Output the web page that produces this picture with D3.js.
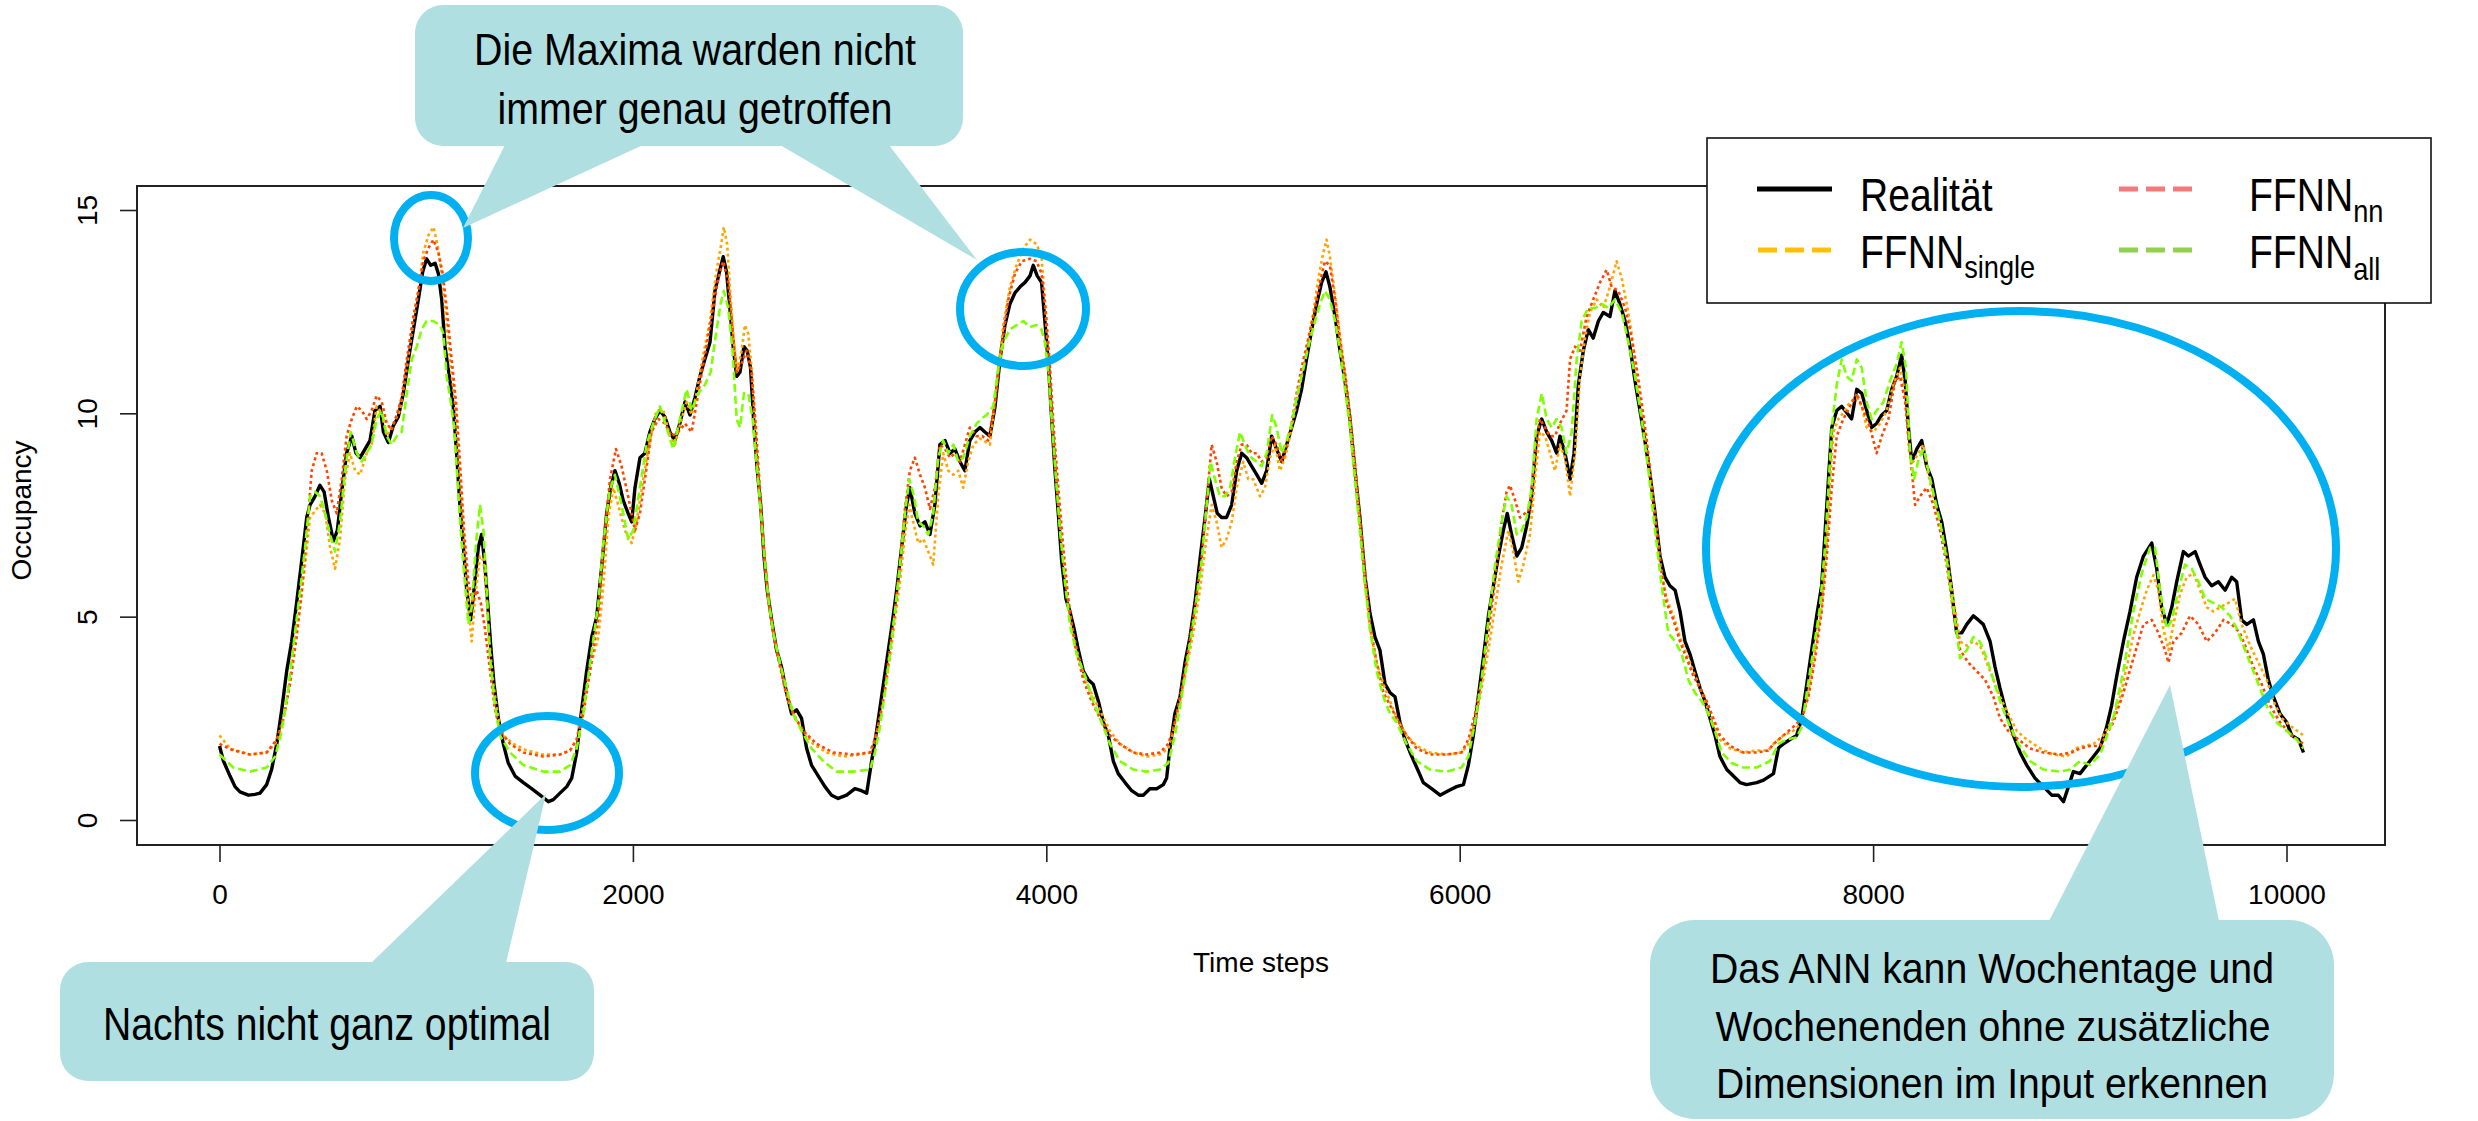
<!DOCTYPE html>
<html><head><meta charset="utf-8">
<script src="https://cdn.jsdelivr.net/npm/d3@7"></script>
<style>body{margin:0;background:#fff} svg{display:block}</style>
</head><body>
<svg id="chart" width="2478" height="1121"></svg>
<script>
// ---------- data ----------
const xTicks = [0, 2000, 4000, 6000, 8000, 10000];
const yTicks = [0, 5, 10, 15];
const xLabel = "Time steps";
const yLabel = "Occupancy";
const legendLabels = [
  {main: "Realität", sub: ""},
  {main: "FFNN", sub: "single"},
  {main: "FFNN", sub: "nn"},
  {main: "FFNN", sub: "all"}
];
const calloutMax = ["Die Maxima warden nicht", "immer genau getroffen"];
const calloutNight = ["Nachts nicht ganz optimal"];
const calloutWeek = ["Das ANN kann Wochentage und", "Wochenenden ohne zusätzliche", "Dimensionen im Input erkennen"];

const realitaet = [
[0,1.82],[19,1.45],[51,1.08],[75,0.82],[99,0.69],[140,0.61],[172,0.63],[196,0.66],[228,0.87],[252,1.24],[277,1.87],[301,2.71],[325,3.66],[349,4.39],[373,5.34],[398,6.39],[422,7.44],[438,7.75],[462,7.96],[486,8.23],[506,8.07],[527,7.44],[551,6.86],[570,7.12],[591,8.07],[615,9.02],[640,9.44],[660,9.02],[680,8.91],[704,9.12],[728,9.33],[752,10.07],[777,10.17],[793,9.54],[817,9.28],[841,9.70],[865,9.91],[889,10.49],[914,11.33],[938,12.06],[962,12.80],[983,13.48],[1002,13.80],[1022,13.64],[1043,13.69],[1059,13.43],[1075,12.80],[1091,11.64],[1112,10.91],[1131,10.17],[1147,9.02],[1163,7.75],[1180,6.70],[1196,5.65],[1215,4.92],[1231,5.65],[1252,6.70],[1268,7.02],[1284,6.28],[1296,5.44],[1312,4.29],[1328,3.34],[1349,2.50],[1373,1.87],[1397,1.40],[1430,1.08],[1470,0.92],[1510,0.77],[1551,0.61],[1591,0.45],[1615,0.50],[1647,0.66],[1680,0.82],[1704,1.03],[1728,1.66],[1752,2.71],[1776,3.66],[1801,4.50],[1825,5.00],
[1848,6.18],[1873,7.54],[1892,8.17],[1913,8.59],[1934,8.28],[1953,7.86],[1977,7.54],[1994,7.33],[2010,8.17],[2034,8.91],[2058,9.02],[2082,9.54],[2106,9.86],[2131,10.07],[2155,9.91],[2179,9.54],[2203,9.33],[2227,9.75],[2252,10.28],[2276,9.96],[2300,10.38],[2324,10.91],[2348,11.33],[2373,11.75],[2397,13.01],[2421,13.53],[2437,13.85],[2453,13.48],[2469,12.59],[2485,11.64],[2502,10.91],[2518,11.01],[2537,11.64],[2553,11.54],[2569,11.12],[2585,9.75],[2602,8.59],[2618,7.75],[2634,6.49],[2650,5.65],[2671,4.92],[2695,4.18],[2719,3.76],[2743,3.13],[2768,2.61],[2792,2.71],[2816,2.50],[2840,1.77],[2864,1.35],[2897,1.08],[2929,0.82],[2961,0.61],[2993,0.53],[3034,0.61],[3074,0.77],[3106,0.72],[3131,0.66],[3155,1.45],[3179,2.19],[3203,3.03],[3227,3.87],[3251,4.71],[3276,5.65],[3300,6.70],[3324,7.75],[3340,8.17],[3364,7.54],[3389,7.23],[3413,7.33],[3437,7.02],[3461,7.75],[3485,9.23],[3510,9.33],[3534,9.02],[3558,9.12],[3582,8.81],[3606,8.59],[3630,9.33],[3655,9.54],[3679,9.65],
[3703,9.54],[3727,9.44],[3752,10.17],[3776,11.33],[3800,12.17],[3824,12.69],[3848,12.96],[3873,13.11],[3897,13.22],[3921,13.38],[3937,13.64],[3956,13.38],[3977,13.22],[3993,12.27],[4010,11.22],[4026,9.86],[4042,8.59],[4058,7.54],[4074,6.39],[4095,5.44],[4114,5.13],[4134,4.71],[4155,4.18],[4179,3.66],[4203,3.45],[4227,3.34],[4252,2.92],[4276,2.40],[4300,2.08],[4324,1.45],[4348,1.14],[4381,0.92],[4413,0.72],[4445,0.61],[4469,0.61],[4501,0.77],[4534,0.77],[4566,0.87],[4582,1.03],[4598,1.77],[4622,2.61],[4647,3.03],[4671,3.87],[4695,4.50],[4719,5.34],[4743,6.39],[4768,7.44],[4789,8.38],[4808,7.96],[4827,7.54],[4848,7.44],[4872,7.44],[4897,7.75],[4921,8.59],[4945,9.02],[4969,8.91],[4993,8.70],[5018,8.49],[5042,8.28],[5066,8.59],[5090,9.44],[5114,9.12],[5139,8.81],[5163,9.23],[5187,9.65],[5211,10.07],[5235,10.59],[5259,11.33],[5284,12.06],[5308,12.69],[5332,13.22],[5353,13.48],[5372,13.11],[5397,12.38],[5421,11.54],[5445,10.80],[5469,9.86],[5493,8.59],[5517,7.44],[5542,5.97],[5566,5.08],
[5590,4.50],[5614,4.18],[5639,3.34],[5663,3.13],[5687,3.03],[5711,2.40],[5735,1.98],[5760,1.66],[5792,1.29],[5824,0.92],[5864,0.77],[5905,0.61],[5945,0.72],[5985,0.82],[6018,0.87],[6042,1.35],[6066,2.08],[6090,3.03],[6114,3.97],[6139,5.02],[6163,5.76],[6187,6.49],[6211,7.12],[6230,7.54],[6251,7.02],[6276,6.49],[6300,6.70],[6324,7.23],[6348,7.96],[6372,9.44],[6397,9.86],[6421,9.54],[6445,9.33],[6469,9.02],[6485,9.44],[6509,9.02],[6534,8.38],[6553,9.02],[6574,10.70],[6598,11.54],[6622,12.06],[6646,11.85],[6671,12.27],[6695,12.48],[6727,12.38],[6751,13.01],[6775,12.69],[6800,12.27],[6824,11.64],[6848,10.80],[6872,10.07],[6896,9.33],[6921,8.49],[6945,7.54],[6969,6.49],[6993,5.97],[7017,5.76],[7042,5.65],[7066,5.13],[7090,4.39],[7114,4.08],[7138,3.66],[7163,3.24],[7187,2.92],[7211,2.50],[7235,2.08],[7259,1.56],[7292,1.24],[7324,1.08],[7356,0.92],[7388,0.87],[7437,0.92],[7470,0.98],
[7518,1.14],[7542,1.77],[7566,1.87],[7598,1.98],[7630,2.08],[7655,2.50],[7679,3.34],[7703,4.18],[7727,5.02],[7751,5.76],[7767,7.02],[7784,8.38],[7800,9.65],[7824,10.07],[7848,10.17],[7872,10.02],[7896,9.86],[7921,10.59],[7945,10.49],[7969,10.07],[7993,9.65],[8017,9.75],[8042,9.96],[8066,10.07],[8090,10.59],[8114,10.91],[8138,11.43],[8155,10.80],[8171,9.65],[8187,8.81],[8211,9.12],[8235,9.33],[8259,8.70],[8284,8.38],[8308,7.75],[8332,7.33],[8356,6.60],[8380,5.65],[8404,4.60],[8429,4.60],[8453,4.81],[8485,5.02],[8509,4.92],[8533,4.81],[8566,4.39],[8590,3.76],[8614,3.24],[8646,2.61],[8679,2.08],[8711,1.66],[8743,1.35],[8783,1.03],[8824,0.82],[8864,0.61],[8896,0.61],[8921,0.45],[8945,0.82],[8969,1.19],[9001,1.14],[9033,1.35],[9066,1.56],[9098,1.77],[9130,2.29],[9154,2.82],[9179,3.55],[9211,4.39],[9243,5.13],[9275,5.97],[9308,6.49],[9348,6.81],
[9372,6.18],[9396,5.23],[9421,4.81],[9445,5.23],[9469,5.86],[9501,6.60],[9525,6.49],[9558,6.60],[9582,6.28],[9606,5.97],[9638,5.76],[9670,5.86],[9703,5.65],[9735,5.97],[9759,5.86],[9783,4.92],[9808,4.81],[9840,4.92],[9864,4.39],[9888,4.08],[9912,3.45],[9937,3.03],[9969,2.61],[10001,2.40],[10025,2.08],[10058,1.98],[10082,1.66]
];

const ffnnSingle = [
[0,2.08],[51,1.76],[148,1.61],[228,1.66],[269,1.87],[301,2.29],[333,3.13],[365,4.39],[390,5.23],[414,6.28],[438,7.44],[462,7.60],[486,7.75],[511,7.54],[535,6.70],[559,6.18],[583,6.91],[607,8.38],[631,9.02],[656,8.59],[680,8.49],[712,9.02],[736,9.23],[760,10.17],[785,10.01],[809,9.44],[841,9.75],[873,10.07],[906,11.12],[938,12.27],[962,13.01],[986,13.95],[1010,14.37],[1035,14.58],[1054,14.16],[1075,13.43],[1099,12.17],[1119,11.12],[1139,10.28],[1156,9.02],[1172,7.75],[1188,6.49],[1204,5.23],[1220,4.39],[1236,5.44],[1260,6.49],[1277,6.39],[1289,5.65],[1305,4.39],[1325,3.34],[1349,2.50],[1373,2.08],[1422,1.87],[1486,1.71],[1567,1.61],[1647,1.61],[1696,1.71],[1728,1.98],[1760,2.82],[1793,3.76],[1833,4.50],
[1857,5.76],[1881,7.44],[1905,8.17],[1929,7.75],[1961,7.12],[1994,6.81],[2018,7.33],[2050,8.38],[2082,9.33],[2114,10.07],[2147,10.07],[2179,9.44],[2203,9.23],[2235,9.86],[2260,10.28],[2284,9.96],[2308,10.49],[2340,11.43],[2373,12.27],[2402,13.43],[2424,14.06],[2440,14.58],[2456,14.16],[2472,12.90],[2489,11.75],[2505,11.01],[2526,11.54],[2542,12.17],[2558,11.96],[2574,11.12],[2590,9.86],[2606,8.38],[2622,7.33],[2639,6.28],[2663,5.13],[2687,4.39],[2719,3.66],[2752,2.92],[2784,2.50],[2824,2.19],[2872,1.87],[2937,1.66],[3018,1.56],[3098,1.61],[3147,1.66],[3171,1.98],[3195,2.50],[3219,3.13],[3243,3.97],[3268,4.92],[3292,5.86],[3316,7.02],[3337,7.75],[3356,7.33],[3380,6.81],[3405,6.91],[3429,6.60],[3453,6.28],[3477,7.96],[3501,9.02],[3526,8.59],[3550,8.49],[3574,8.59],[3598,8.17],[3622,8.81],[3647,9.23],[3679,9.38],
[3727,9.23],[3760,10.70],[3792,12.17],[3824,13.11],[3856,13.64],[3889,14.06],[3921,14.27],[3953,14.16],[3977,13.85],[3993,12.80],[4010,11.33],[4026,9.86],[4047,8.49],[4066,7.33],[4090,6.07],[4114,5.02],[4147,4.18],[4187,3.45],[4227,3.03],[4268,2.61],[4308,2.19],[4356,1.87],[4421,1.66],[4485,1.56],[4550,1.61],[4590,1.76],[4614,2.19],[4647,2.92],[4679,3.76],[4711,4.60],[4743,5.65],[4772,6.81],[4800,7.75],[4824,7.33],[4848,6.70],[4872,6.91],[4897,7.33],[4921,8.17],[4953,8.81],[4977,8.38],[5001,8.38],[5034,7.96],[5058,8.17],[5082,8.91],[5106,9.23],[5130,8.59],[5155,8.91],[5179,9.44],[5203,10.07],[5227,10.70],[5259,11.54],[5292,12.48],[5316,13.32],[5340,13.95],[5356,14.27],[5372,13.85],[5397,12.90],[5421,11.85],[5445,10.91],[5469,9.86],[5493,8.59],[5517,7.33],[5542,5.86],[5566,4.70],
[5598,3.87],[5631,3.34],[5663,2.92],[5695,2.50],[5743,2.08],[5792,1.82],[5856,1.66],[5937,1.61],[6009,1.66],[6042,1.87],[6074,2.40],[6106,3.24],[6139,4.18],[6171,5.23],[6203,6.28],[6235,7.12],[6259,6.60],[6284,5.86],[6308,6.28],[6340,7.02],[6364,8.38],[6388,9.54],[6413,9.44],[6437,9.02],[6461,8.59],[6485,9.23],[6509,8.91],[6534,7.96],[6558,9.02],[6582,10.91],[6606,11.85],[6630,12.48],[6663,12.80],[6695,12.59],[6727,13.11],[6759,13.74],[6784,13.32],[6808,12.69],[6832,11.96],[6856,10.91],[6880,10.07],[6905,9.23],[6929,8.17],[6953,7.12],[6977,6.07],[7001,5.44],[7034,5.02],[7066,4.50],[7098,4.08],[7130,3.66],[7163,3.24],[7195,2.82],[7227,2.40],[7259,1.98],[7308,1.76],[7372,1.66],[7437,1.71],[7493,1.71],
[7518,1.87],[7566,2.08],[7614,2.19],[7655,2.40],[7687,3.13],[7719,4.18],[7751,5.23],[7776,6.81],[7792,8.38],[7808,9.54],[7832,9.86],[7856,10.01],[7888,10.28],[7921,10.38],[7945,10.17],[7969,9.65],[8001,9.54],[8034,9.75],[8066,10.07],[8098,10.70],[8130,11.12],[8155,10.49],[8175,9.02],[8195,8.81],[8219,9.02],[8243,9.23],[8267,8.49],[8292,7.96],[8324,7.33],[8356,6.49],[8388,5.44],[8421,4.39],[8453,4.29],[8485,4.39],[8517,4.29],[8550,3.87],[8582,3.45],[8614,3.03],[8654,2.61],[8695,2.19],[8743,1.98],[8808,1.76],[8872,1.61],[8937,1.56],[8977,1.76],[9017,1.82],[9066,1.87],[9114,2.08],[9162,2.50],[9195,3.03],[9227,3.76],[9259,4.55],[9292,5.13],[9324,5.65],[9356,6.02],[9380,5.65],[9404,4.71],[9429,4.18],[9453,4.81],[9485,5.55],[9517,5.97],[9550,6.07],[9582,5.65],[9614,5.23],[9646,5.13],[9679,5.23],[9719,5.34],[9751,5.44],[9783,4.81],[9824,4.29],[9864,3.87],[9904,3.45],[9937,2.92],[9977,2.50],[10025,2.29],[10082,2.08]
];

const ffnnNn = [
[0,1.87],[67,1.71],[148,1.61],[228,1.66],[277,1.98],[309,2.50],[341,3.34],[373,4.50],[398,5.65],[422,7.02],[446,8.59],[470,9.02],[494,9.02],[519,8.59],[543,7.86],[567,7.54],[591,8.38],[615,9.44],[640,9.86],[664,10.17],[688,10.07],[712,9.86],[736,10.07],[760,10.43],[785,10.28],[809,9.75],[833,9.59],[857,9.96],[881,10.38],[906,11.33],[938,12.38],[962,13.01],[986,13.74],[1010,14.06],[1035,14.27],[1059,13.95],[1080,13.43],[1099,12.59],[1123,11.33],[1144,10.28],[1163,8.81],[1183,7.12],[1204,5.86],[1225,5.34],[1244,5.65],[1264,5.34],[1284,4.71],[1309,3.66],[1333,2.71],[1357,2.19],[1406,1.87],[1470,1.66],[1567,1.56],[1647,1.61],[1696,1.71],[1728,1.98],[1760,2.61],[1793,3.66],[1833,5.00],
[1857,6.70],[1889,8.38],[1918,9.12],[1945,8.70],[1977,7.96],[2010,7.12],[2034,7.54],[2058,8.38],[2090,9.54],[2123,9.86],[2155,9.75],[2187,9.44],[2219,9.54],[2252,9.75],[2284,9.54],[2316,10.49],[2348,11.43],[2381,12.38],[2413,13.32],[2437,13.74],[2461,13.22],[2482,12.06],[2502,11.01],[2526,11.22],[2550,11.54],[2574,11.01],[2595,9.65],[2614,8.17],[2631,6.81],[2650,5.65],[2676,4.71],[2703,3.97],[2735,3.24],[2776,2.61],[2824,2.19],[2889,1.87],[2969,1.66],[3066,1.61],[3147,1.66],[3171,1.98],[3195,2.50],[3219,3.24],[3243,4.18],[3268,5.13],[3292,6.28],[3316,7.65],[3340,8.59],[3364,8.91],[3389,8.49],[3413,8.17],[3437,7.65],[3461,8.17],[3485,9.23],[3510,9.12],[3534,8.91],[3558,9.02],[3582,8.81],[3606,9.23],[3630,9.65],[3663,9.44],[3690,9.44],
[3719,9.33],[3752,10.28],[3784,11.64],[3816,12.80],[3848,13.43],[3881,13.74],[3921,13.80],[3953,13.74],[3977,13.43],[3998,12.48],[4018,11.12],[4037,9.54],[4058,8.17],[4082,6.70],[4106,5.44],[4139,4.29],[4179,3.45],[4219,2.92],[4260,2.50],[4308,2.08],[4356,1.87],[4421,1.66],[4485,1.61],[4550,1.66],[4590,1.87],[4622,2.40],[4655,3.24],[4687,4.18],[4719,5.23],[4752,6.49],[4776,7.86],[4800,9.23],[4824,8.81],[4848,8.17],[4872,7.96],[4897,8.07],[4921,8.81],[4945,9.23],[4969,9.23],[4993,9.02],[5018,9.02],[5042,8.81],[5066,8.91],[5090,9.44],[5114,9.23],[5139,8.81],[5163,9.23],[5187,9.75],[5211,10.49],[5235,11.12],[5268,11.85],[5300,12.59],[5324,13.22],[5348,13.74],[5372,13.64],[5397,12.80],[5421,11.85],[5445,11.01],[5469,9.96],[5493,8.81],[5517,7.44],[5542,6.07],[5566,4.82],
[5598,3.87],[5631,3.13],[5663,2.82],[5695,2.50],[5743,2.08],[5792,1.76],[5856,1.61],[5937,1.61],[6009,1.66],[6042,1.98],[6074,2.61],[6106,3.45],[6139,4.60],[6171,5.86],[6203,7.33],[6227,8.07],[6243,8.23],[6268,7.86],[6292,7.44],[6316,7.54],[6340,7.65],[6364,9.02],[6388,9.86],[6413,9.65],[6437,9.44],[6461,9.44],[6485,9.75],[6517,10.07],[6534,11.33],[6558,11.64],[6582,11.54],[6614,12.38],[6646,12.80],[6679,13.22],[6711,13.53],[6735,13.11],[6767,13.01],[6800,12.59],[6832,11.85],[6856,11.12],[6880,10.28],[6905,9.33],[6929,8.17],[6953,7.02],[6977,6.07],[7001,5.34],[7034,4.92],[7066,4.39],[7098,3.97],[7130,3.55],[7163,3.24],[7195,2.92],[7227,2.50],[7259,2.08],[7308,1.82],[7372,1.66],[7437,1.66],[7493,1.71],
[7518,1.87],[7566,2.08],[7614,2.29],[7655,2.50],[7687,3.03],[7719,3.97],[7751,5.13],[7776,6.49],[7800,8.17],[7824,9.44],[7856,9.86],[7888,10.17],[7921,10.49],[7953,10.07],[7985,9.65],[8017,9.02],[8042,9.44],[8074,9.86],[8106,10.80],[8130,10.91],[8155,10.28],[8179,9.02],[8203,7.75],[8227,7.96],[8259,8.17],[8292,7.75],[8324,7.12],[8356,6.28],[8388,5.13],[8421,4.18],[8461,3.87],[8501,3.66],[8541,3.45],[8582,3.03],[8614,2.50],[8654,2.19],[8703,1.98],[8759,1.76],[8824,1.66],[8904,1.61],[8961,1.66],[9001,1.76],[9050,1.82],[9098,1.82],[9162,2.40],[9211,3.13],[9259,3.97],[9308,4.81],[9348,4.92],[9380,4.60],[9412,4.18],[9429,3.87],[9453,4.39],[9493,4.60],[9533,5.02],[9574,4.81],[9614,4.39],[9654,4.60],[9695,4.92],[9735,4.81],[9775,4.60],[9808,4.18],[9840,3.76],[9880,3.34],[9920,2.82],[9969,2.40],[10025,2.08],[10082,1.87]
];

const ffnnAll = [
[0,1.61],[67,1.29],[148,1.19],[228,1.29],[269,1.56],[301,2.19],[333,3.24],[365,4.60],[390,5.65],[414,6.70],[438,7.96],[462,8.07],[486,7.96],[511,7.54],[535,7.02],[559,6.60],[583,7.33],[607,8.59],[635,9.54],[664,9.02],[688,8.81],[712,9.02],[736,9.23],[760,9.86],[785,10.07],[809,9.44],[833,9.23],[857,9.44],[881,9.54],[906,10.49],[930,11.33],[954,11.64],[978,12.06],[1002,12.27],[1035,12.27],[1067,12.17],[1083,11.96],[1099,10.91],[1119,10.28],[1135,9.65],[1151,8.38],[1167,7.12],[1183,6.07],[1204,4.81],[1220,5.23],[1241,6.81],[1260,7.75],[1277,7.12],[1293,5.65],[1309,3.97],[1333,2.82],[1357,2.08],[1406,1.66],[1470,1.35],[1567,1.19],[1647,1.19],[1696,1.35],[1728,1.76],[1760,2.61],[1793,3.87],[1833,5.34],
[1857,6.81],[1886,8.07],[1913,8.49],[1945,7.75],[1977,6.91],[2002,7.12],[2034,8.17],[2066,9.23],[2098,9.75],[2131,10.17],[2163,9.65],[2195,9.12],[2227,9.86],[2260,10.59],[2284,10.07],[2316,10.49],[2348,10.70],[2376,11.01],[2402,11.96],[2424,12.69],[2440,13.01],[2461,12.59],[2482,11.54],[2502,9.86],[2518,9.65],[2537,10.49],[2558,10.49],[2579,9.86],[2598,8.81],[2618,7.65],[2634,6.60],[2655,5.44],[2679,4.60],[2711,3.87],[2743,3.24],[2776,2.61],[2816,2.19],[2864,1.76],[2921,1.45],[2985,1.19],[3066,1.19],[3147,1.24],[3171,1.66],[3195,2.29],[3219,3.13],[3243,4.08],[3268,5.13],[3292,6.28],[3316,7.54],[3337,8.38],[3360,7.96],[3380,7.33],[3405,7.23],[3429,7.02],[3453,7.54],[3477,8.91],[3501,9.33],[3526,9.02],[3550,9.23],[3574,8.81],[3598,8.91],[3630,9.44],[3663,9.75],[3695,9.90],
[3711,9.96],[3743,10.17],[3768,11.12],[3792,11.75],[3824,12.06],[3856,12.17],[3889,12.27],[3921,12.12],[3953,12.17],[3977,12.06],[3993,11.75],[4010,11.01],[4026,9.86],[4047,8.38],[4066,7.12],[4090,5.86],[4114,4.81],[4147,4.08],[4187,3.55],[4227,2.92],[4268,2.40],[4308,1.87],[4356,1.45],[4421,1.24],[4485,1.19],[4550,1.24],[4590,1.40],[4622,2.08],[4655,3.03],[4687,4.08],[4719,5.13],[4752,6.39],[4776,7.75],[4795,8.81],[4816,8.38],[4840,7.96],[4864,7.96],[4889,8.17],[4913,8.91],[4937,9.54],[4969,9.12],[4993,8.91],[5018,8.81],[5042,8.70],[5066,9.02],[5093,9.96],[5114,9.65],[5139,9.02],[5163,9.33],[5187,9.75],[5211,10.38],[5235,10.91],[5268,11.64],[5300,12.27],[5324,12.69],[5348,13.01],[5372,12.80],[5397,12.27],[5421,11.54],[5445,10.59],[5469,9.65],[5493,8.38],[5517,7.12],[5542,5.76],[5566,4.70],
[5598,3.66],[5631,3.03],[5663,2.61],[5695,2.40],[5743,1.87],[5792,1.45],[5856,1.24],[5937,1.19],[6009,1.29],[6042,1.56],[6074,2.40],[6106,3.45],[6139,4.92],[6171,6.28],[6203,7.33],[6227,7.96],[6251,7.75],[6276,7.02],[6300,7.12],[6324,7.44],[6348,8.17],[6372,9.86],[6397,10.49],[6421,9.86],[6445,9.65],[6469,9.86],[6493,9.65],[6517,9.02],[6542,9.54],[6566,11.33],[6590,12.27],[6622,12.59],[6655,12.59],[6687,12.69],[6719,12.59],[6751,12.80],[6784,12.48],[6816,11.75],[6848,10.91],[6880,9.86],[6913,8.59],[6945,7.12],[6977,5.76],[7009,4.60],[7042,4.39],[7074,4.08],[7106,3.45],[7138,3.13],[7171,2.92],[7203,2.61],[7235,2.19],[7267,1.66],[7316,1.40],[7372,1.29],[7437,1.29],
[7501,1.45],[7542,1.87],[7582,1.98],[7630,2.03],[7655,2.29],[7679,3.13],[7711,4.18],[7743,5.23],[7767,6.70],[7784,8.17],[7800,9.65],[7824,10.70],[7848,11.33],[7872,10.91],[7896,10.80],[7921,11.33],[7945,11.12],[7969,10.28],[7993,9.86],[8017,10.07],[8050,10.28],[8082,10.80],[8114,11.22],[8138,11.75],[8159,11.12],[8179,9.02],[8198,8.38],[8222,8.91],[8246,9.12],[8271,8.49],[8295,7.96],[8324,7.33],[8356,6.39],[8388,5.23],[8421,3.97],[8453,4.18],[8485,4.50],[8517,4.39],[8550,3.97],[8582,3.45],[8614,2.92],[8654,2.40],[8703,1.87],[8759,1.45],[8824,1.24],[8904,1.19],[8953,1.24],[9001,1.45],[9050,1.35],[9098,1.61],[9162,2.50],[9211,3.66],[9259,5.13],[9300,6.07],[9340,6.70],[9364,6.70],[9388,5.65],[9421,4.71],[9445,4.92],[9477,5.65],[9509,6.28],[9541,6.18],[9574,5.86],[9606,5.44],[9646,5.34],[9687,5.23],[9727,5.02],[9759,4.71],[9791,4.29],[9832,3.76],[9872,3.24],[9912,2.71],[9953,2.40],[10001,2.19],[10049,1.98],[10082,1.76]
];

// ---------- drawing ----------
const W = 2478, H = 1121;
const svg = d3.select("#chart");
svg.append("rect").attr("width", W).attr("height", H).attr("fill", "#fff");

const box = {left: 137, right: 2385, top: 186, bottom: 845};
const x = d3.scaleLinear().domain([-399.2, 10476.5]).range([box.left, box.right]);
const y = d3.scaleLinear().domain([-0.615, 15.59]).range([box.bottom, box.top]);

const line = d3.line().x(d => x(d[0])).y(d => y(d[1]));

const series = [
  {data: realitaet, color: "#000000", width: 3.4, dash: null},
  {data: ffnnSingle, color: "#FFA500", width: 2.6, dash: "3,3"},
  {data: ffnnNn, color: "#FF4500", width: 2.6, dash: "3,3"},
  {data: ffnnAll, color: "#7FFF00", width: 2.6, dash: "8,4"}
];
const gLines = svg.append("g");
series.forEach(s => {
  gLines.append("path").datum(s.data)
    .attr("d", line).attr("fill", "none")
    .attr("stroke", s.color).attr("stroke-width", s.width)
    .attr("stroke-linejoin", "round")
    .attr("stroke-dasharray", s.dash);
});

// plot frame
svg.append("rect").attr("x", box.left).attr("y", box.top)
  .attr("width", box.right - box.left).attr("height", box.bottom - box.top)
  .attr("fill", "none").attr("stroke", "#222").attr("stroke-width", 2);

const axisFont = "'Liberation Sans', Arial, Helvetica, sans-serif";
// x axis
const gx = svg.append("g").attr("transform", `translate(0,${box.bottom})`)
  .call(d3.axisBottom(x).tickValues(xTicks).tickSize(17).tickPadding(22).tickFormat(d3.format("d")));
gx.select(".domain").remove();
gx.attr("font-size", 28).attr("font-family", axisFont);
gx.selectAll(".tick line").attr("stroke", "#222").attr("stroke-width", 1.6);
gx.selectAll(".tick text").attr("fill", "#000");

// y axis
const gy = svg.append("g").attr("transform", `translate(${box.left},0)`)
  .call(d3.axisLeft(y).tickValues(yTicks).tickSize(17));
gy.select(".domain").remove();
gy.attr("font-size", 28).attr("font-family", axisFont);
gy.selectAll(".tick line").attr("stroke", "#222").attr("stroke-width", 1.6);
gy.selectAll(".tick text").attr("fill", "#000")
  .attr("transform", "rotate(-90)").attr("x", 0).attr("y", -40)
  .attr("dy", 0).attr("text-anchor", "middle");

// axis titles
svg.append("text").attr("x", (box.left + box.right) / 2).attr("y", 972)
  .attr("text-anchor", "middle").attr("font-size", 28).attr("font-family", axisFont)
  .text(xLabel);
svg.append("text").attr("transform", `translate(31,${(box.top + box.bottom) / 2 - 5}) rotate(-90)`)
  .attr("text-anchor", "middle").attr("font-size", 28).attr("font-family", axisFont)
  .text(yLabel);

// ---------- annotations ----------
const blue = "#00B0F0";
const ellipses = [
  {cx: 431, cy: 238, rx: 37, ry: 43},
  {cx: 547, cy: 773, rx: 72, ry: 57},
  {cx: 1023, cy: 309, rx: 63, ry: 57},
  {cx: 2021, cy: 549, rx: 315, ry: 238}
];
svg.append("g").selectAll("ellipse").data(ellipses).join("ellipse")
  .attr("cx", d => d.cx).attr("cy", d => d.cy).attr("rx", d => d.rx).attr("ry", d => d.ry)
  .attr("fill", "none").attr("stroke", blue).attr("stroke-width", 8);

const teal = "#B0DFE2";
const narrow = "'Liberation Sans', Arial, sans-serif";
function callout(rect, tails, lines) {
  const g = svg.append("g");
  g.append("rect").attr("x", rect.x).attr("y", rect.y).attr("width", rect.w).attr("height", rect.h)
    .attr("rx", rect.r).attr("ry", rect.r).attr("fill", teal);
  tails.forEach(t => g.append("path").attr("d", "M" + t.map(p => p.join(",")).join("L") + "Z").attr("fill", teal));
  lines.forEach(l => g.append("text").attr("x", l.cx - l.len / 2).attr("y", l.y)
    .attr("font-size", l.size).attr("font-family", narrow)
    .attr("textLength", l.len).attr("lengthAdjust", "spacingAndGlyphs")
    .text(l.text));
}
callout({x: 415, y: 5, w: 548, h: 141, r: 28},
  [[[505, 145], [643, 145], [463, 228]], [[780, 145], [889, 145], [977, 260]]],
  [{text: calloutMax[0], cx: 695, y: 65, len: 442, size: 45},
   {text: calloutMax[1], cx: 695, y: 124, len: 395, size: 45}]);
callout({x: 60, y: 962, w: 534, h: 119, r: 28},
  [[[371, 963], [506, 963], [546, 794]]],
  [{text: calloutNight[0], cx: 327, y: 1040, len: 448, size: 46}]);
callout({x: 1650, y: 920, w: 684, h: 199, r: 45},
  [[[2049, 921], [2219, 921], [2170, 685]]],
  [{text: calloutWeek[0], cx: 1992, y: 983, len: 564, size: 43},
   {text: calloutWeek[1], cx: 1993, y: 1041, len: 555, size: 43},
   {text: calloutWeek[2], cx: 1992, y: 1098, len: 552, size: 43}]);

// ---------- legend ----------
const lg = svg.append("g");
lg.append("rect").attr("x", 1707).attr("y", 138).attr("width", 724).attr("height", 165)
  .attr("fill", "#fff").attr("stroke", "#111").attr("stroke-width", 1.6);
const legendItems = [
  {color: "#000000", dash: null, lx: 1757, ly: 189, tx: 1860, ty: 211, subDy: 0},
  {color: "#FFC000", dash: "19,8", lx: 1758, ly: 250, tx: 1860, ty: 268, subDy: 10},
  {color: "#F47A7A", dash: "19,8", lx: 2119, ly: 189, tx: 2249, ty: 211, subDy: 11},
  {color: "#92D050", dash: "19,8", lx: 2119, ly: 250, tx: 2249, ty: 268, subDy: 12}
];
legendItems.forEach((it, i) => {
  lg.append("line").attr("x1", it.lx).attr("x2", it.lx + 75).attr("y1", it.ly).attr("y2", it.ly)
    .attr("stroke", it.color).attr("stroke-width", 5).attr("stroke-dasharray", it.dash);
  const t = lg.append("text").attr("transform", `translate(${it.tx},${it.ty}) scale(0.85,1)`)
    .attr("font-family", narrow).attr("font-size", 46);
  t.append("tspan").text(legendLabels[i].main);
  if (legendLabels[i].sub) {
    t.append("tspan").attr("font-size", 32).attr("dy", it.subDy).text(legendLabels[i].sub);
  }
});
</script>
</body></html>
